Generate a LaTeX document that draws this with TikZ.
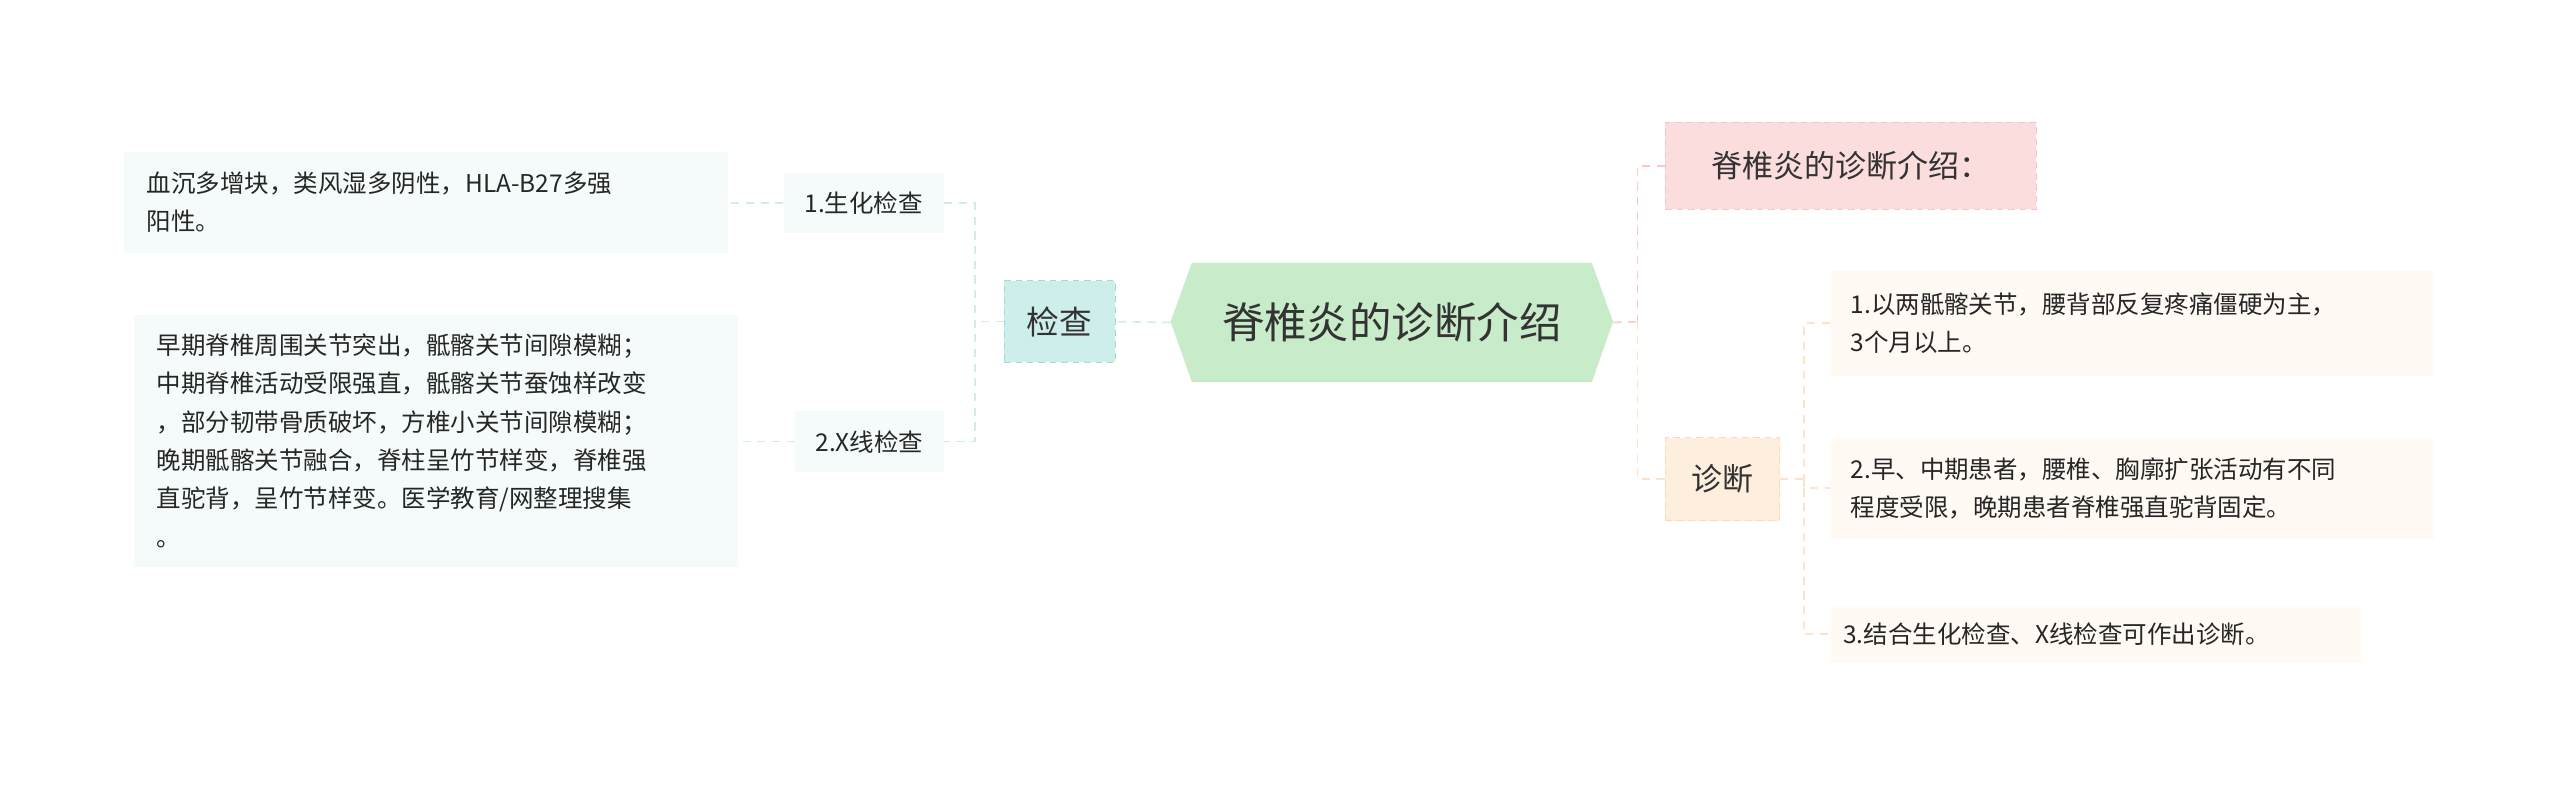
\documentclass[tikz,border=0pt]{standalone}
\usepackage{fontspec}
\setmainfont{Noto Sans CJK SC}
\begin{document}
\begin{tikzpicture}[x=1pt,y=1pt,
  leaf/.style={inner sep=0pt,minimum height=#1,anchor=center,align=left,font=\fontsize{15}{23.5}\selectfont,text=black!85},
  lnkL/.style={draw=cyan!30!green!18,line width=1pt,dash pattern=on 5pt off 4pt},
  lnkP/.style={draw=red!22,line width=1pt,dash pattern=on 5pt off 4pt},
  lnkO/.style={draw=orange!22,line width=1pt,dash pattern=on 5pt off 4pt}]
\useasboundingbox (0,0) rectangle (1568,-484);
% center
\fill[green!40!teal!10!white, fill={rgb,255:red,200;green,235;blue,201}] (717,-197)--(730,-161)--(975,-161)--(988,-197)--(975,-234)--(730,-234)--cycle;
\node[inner sep=0pt,minimum width=271,minimum height=73,font=\fontsize{26}{30}\selectfont,text=black!80] (c) at (852.5,-197.5) {脊椎炎的诊断介绍};
% left
\node[inner sep=0pt,minimum width=68,minimum height=50,fill={rgb,255:red,205;green,238;blue,234},draw={rgb,255:red,160;green,220;blue,212},dash pattern=on 4pt off 3pt,font=\fontsize{20}{24}\selectfont,text=black!80] (jc) at (649,-197) {检查};
\node[inner sep=0pt,minimum width=98,minimum height=37,fill={rgb,255:red,244;green,251;blue,250},font=\fontsize{15}{18}\selectfont,text=black!85] (s1) at (529,-124.5) {1.生化检查};
\node[inner sep=0pt,minimum width=91,minimum height=37,fill={rgb,255:red,244;green,251;blue,250},font=\fontsize{15}{18}\selectfont,text=black!85] (s2) at (532.5,-270.5) {2.X线检查};
\node[leaf=62,minimum width=370,fill={rgb,255:red,244;green,251;blue,250},text width=342] (l1) at (261,-124) {血沉多增块，类风湿多阴性，HLA-B27多强\\阳性。};
\node[leaf=154,minimum width=370,fill={rgb,255:red,244;green,251;blue,250},text width=342] (l2) at (267,-270) {早期脊椎周围关节突出，骶髂关节间隙模糊；\\中期脊椎活动受限强直，骶髂关节蚕蚀样改变\\，部分韧带骨质破坏，方椎小关节间隙模糊；\\晚期骶髂关节融合，脊柱呈竹节样变，脊椎强\\直驼背，呈竹节样变。医学教育/网整理搜集\\。};
% right
\node[inner sep=0pt,minimum width=227,minimum height=53,fill={rgb,255:red,252;green,221;blue,221},draw={rgb,255:red,247;green,196;blue,196},dash pattern=on 4pt off 3pt,font=\fontsize{19}{23}\selectfont,text=black!80] (r1) at (1133.5,-101.5) {脊椎炎的诊断介绍：};
\node[inner sep=0pt,minimum width=70,minimum height=51,fill={rgb,255:red,253;green,238;blue,222},draw={rgb,255:red,250;green,218;blue,188},dash pattern=on 4pt off 3pt,font=\fontsize{19}{23}\selectfont,text=black!80] (zd) at (1055,-293.5) {诊断};
\node[leaf=64,minimum width=370,fill={rgb,255:red,255;green,250;blue,244},text width=345] (d1) at (1306,-198) {1.以两骶髂关节，腰背部反复疼痛僵硬为主，\\3个月以上。};
\node[leaf=62,minimum width=370,fill={rgb,255:red,255;green,250;blue,244},text width=345] (d2) at (1306,-299) {2.早、中期患者，腰椎、胸廓扩张活动有不同\\程度受限，晚期患者脊椎强直驼背固定。};
\node[leaf=35,minimum width=326,fill={rgb,255:red,255;green,250;blue,244},text width=310] (d3) at (1284,-388.5) {3.结合生化检查、X线检查可作出诊断。};
% connectors
\coordinate (bl) at (597,-197);
\coordinate (br) at (1003,-197);
\coordinate (bz) at (1105,-293.5);
\draw[lnkL] (c.west) -- (jc.east);
\draw[lnkL] (jc.west) -- (bl);
\draw[lnkL] (s1.east) -| (bl) |- (s2.east);
\draw[lnkL] (s1.west) -- (l1.east |- s1.west);
\draw[lnkL] (s2.west) -- (l2.east |- s2.west);
\draw[lnkP] (c.east) -- (br);
\draw[lnkP] (r1.west) -| (br);
\draw[lnkO] (br) |- (zd.west);
\draw[lnkO] (zd.east) -- (bz);
\draw[lnkO] (d1.west) -| (bz) |- (d3.west);
\draw[lnkO] (bz) |- (d2.west);
\end{tikzpicture}
\end{document}
